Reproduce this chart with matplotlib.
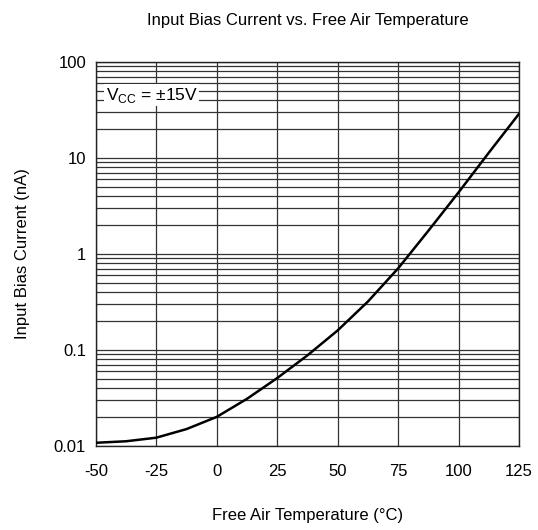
import matplotlib
matplotlib.use("Agg")
import matplotlib.pyplot as plt
from matplotlib.ticker import FixedLocator, NullFormatter

plt.rcParams['font.family'] = ['Liberation Sans', 'DejaVu Sans']
plt.rcParams['axes.unicode_minus'] = False

# curve
temp_c = [-50, -37.5, -25, -12.5, 0, 12.5, 25, 37.5, 50, 62.5, 75, 87.5, 100, 112.5, 125]
bias_na = [0.0108, 0.0112, 0.0122, 0.0150, 0.0201, 0.031, 0.051, 0.088, 0.16,
           0.32, 0.71, 1.75, 4.4, 11.4, 29.0]

x_ticks = [-50, -25, 0, 25, 50, 75, 100, 125]
y_ticks = [0.01, 0.1, 1, 10, 100]
y_tick_labels = ["0.01", "0.1", "1", "10", "100"]

fig = plt.figure(figsize=(5.38, 5.30), dpi=100)
ax = fig.add_axes([0.178, 0.1585, 0.787, 0.7245])

ax.set_yscale('log')
ax.set_xlim(-50, 125)
ax.set_ylim(0.01, 100)

ax.set_xticks(x_ticks)
ax.set_xticklabels([str(t) for t in x_ticks])
ax.set_yticks(y_ticks)
ax.set_yticklabels(y_tick_labels)
minors = [m * 10.0 ** d for d in range(-2, 2) for m in range(2, 10)]
ax.yaxis.set_minor_locator(FixedLocator(minors))
ax.yaxis.set_minor_formatter(NullFormatter())

ax.grid(True, which='major', color='#333333', linewidth=0.9)
ax.grid(True, which='minor', axis='y', color='#333333', linewidth=0.9)
ax.tick_params(which='both', length=0, labelsize=12)
ax.tick_params(axis='x', pad=13)
ax.tick_params(axis='y', pad=7)
for s in ax.spines.values():
    s.set_color('#222222')
    s.set_linewidth(1.0)

ax.plot(temp_c, bias_na, color='black', linewidth=1.8, zorder=3)

ax.text(-45.9, 45, "V$_{\\mathregular{CC}}$ = \u00b115V", fontsize=12.5, va='center', ha='left',
        bbox=dict(facecolor='white', edgecolor='none', pad=1.0), zorder=4)

ax.set_title("Input Bias Current vs. Free Air Temperature", fontsize=12, pad=27)
ax.set_xlabel("Free Air Temperature (\u00b0C)", fontsize=12, labelpad=21)
ax.set_ylabel("Input Bias Current (nA)", fontsize=12, labelpad=17)

fig.savefig("out.png", dpi=100)
